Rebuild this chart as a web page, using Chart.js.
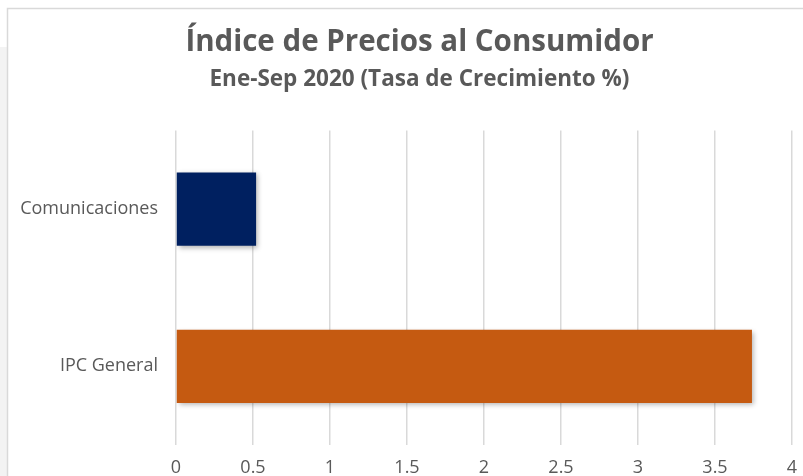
<!DOCTYPE html>
<html>
<head>
  <meta charset="UTF-8">
  <title>Índice de Precios al Consumidor</title>
  <script src="https://cdn.jsdelivr.net/npm/chart.js"></script>
  <style>
    html, body { margin: 0; padding: 0; background: #fff; }
    #wrap { width: 803px; height: 476px; position: relative; }
  </style>
</head>
<body>
  <div id="wrap"><canvas id="ipc" width="803" height="476"></canvas></div>

  <script>
    // data
    const categories = ['Comunicaciones', 'IPC General'];
    const growth = [0.52, 3.74];
    const barColors = ['#002060', '#C55A11'];
    const titleText = 'Índice de Precios al Consumidor';
    const subtitleText = 'Ene-Sep 2020 (Tasa de Crecimiento %)';

    const textColor = '#595959';
    const fontFamily = '"Open Sans", "DejaVu Sans", sans-serif';

    // frame: grey strip on the left + thin border like the screenshot
    const frame = {
      id: 'frame',
      afterLayout(chart) {
        // the left padding only serves to centre the title; let the
        // category labels use that room too
        chart.scales.y.left = 0;
      },
      beforeDraw(chart) {
        const c = chart.ctx;
        c.save();
        c.fillStyle = '#fff';
        c.fillRect(0, 0, chart.width, chart.height);
        c.fillStyle = '#f3f3f3';
        c.fillRect(0, 47, 7, chart.height - 47);
        c.strokeStyle = '#d9d9d9';
        c.lineWidth = 1.5;
        c.beginPath();
        c.moveTo(7.5, chart.height);
        c.lineTo(7.5, 8.5);
        c.lineTo(chart.width, 8.5);
        c.stroke();
        c.restore();
      }
    };

    // soft drop shadow under the bars
    const barShadow = {
      id: 'barShadow',
      beforeDatasetDraw(chart) {
        const c = chart.ctx;
        c.save();
        c.shadowColor = 'rgba(0,0,0,0.3)';
        c.shadowBlur = 5;
        c.shadowOffsetX = 2;
        c.shadowOffsetY = 2;
      },
      afterDatasetDraw(chart) {
        chart.ctx.restore();
      }
    };

    new Chart(document.getElementById('ipc'), {
      type: 'bar',
      data: {
        labels: categories,
        datasets: [{
          data: growth,
          backgroundColor: barColors,
          borderWidth: 0,
          barPercentage: 0.466,
          categoryPercentage: 1
        }]
      },
      options: {
        indexAxis: 'y',
        responsive: false,
        animation: false,
        layout: { padding: { top: 0, right: 0, bottom: 0, left: 36 } },
        plugins: {
          legend: { display: false },
          tooltip: { enabled: false },
          title: {
            display: true,
            text: titleText,
            color: textColor,
            font: { family: fontFamily, size: 29.5, weight: 'bold' },
            padding: { top: 25, bottom: 0 }
          },
          subtitle: {
            display: true,
            text: subtitleText,
            color: textColor,
            font: { family: fontFamily, size: 22.5, weight: 'bold' },
            padding: { top: 6, bottom: 37 }
          }
        },
        scales: {
          x: {
            min: 0,
            max: 4,
            afterFit(scale) {
              scale.height = 31;
              scale.paddingRight = 11;
            },
            ticks: {
              stepSize: 0.5,
              color: textColor,
              font: { family: fontFamily, size: 18 },
              padding: 12,
              callback: v => String(v)
            },
            grid: { color: '#d9d9d9', lineWidth: 1.5, drawTicks: false },
            border: { display: false }
          },
          y: {
            afterFit(scale) { scale.width = 140; },
            ticks: {
              color: textColor,
              font: { family: fontFamily, size: 18 },
              padding: 18
            },
            grid: { display: false, drawTicks: false },
            border: { display: false }
          }
        }
      },
      plugins: [frame, barShadow]
    });
  </script>
</body>
</html>
